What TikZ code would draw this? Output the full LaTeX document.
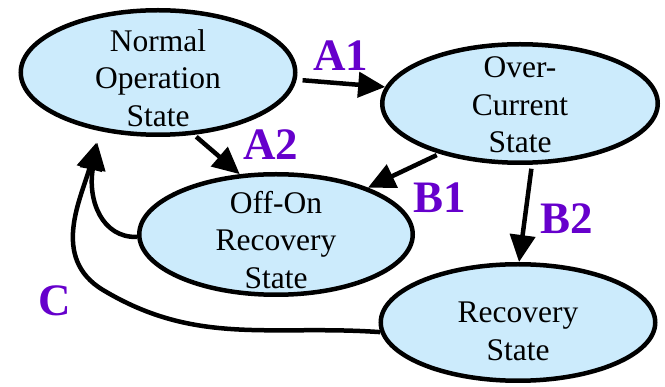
\documentclass[tikz,border=0pt]{standalone}
\usepackage{fontspec}
\setmainfont{Liberation Serif}
\newfontfamily\timesfont{Liberation Serif}
\usetikzlibrary{shapes.geometric,arrows.meta}
\definecolor{stfill}{HTML}{CCEBFC}
\definecolor{lblpurple}{HTML}{6600CC}
\begin{document}
\begin{tikzpicture}[x=1pt,y=1pt,
 state/.style={ellipse,draw=black,fill=stfill,line width=4.5pt,inner sep=0pt},
 stext/.style={align=center,inner sep=0pt,font=\timesfont\fontsize{31.5}{37.5}\selectfont},
 tr/.style={line width=4.5pt,-{Triangle[length=27pt,width=25pt]}},
 lbl/.style={text=lblpurple,font=\timesfont\fontsize{45}{45}\selectfont\bfseries,inner sep=0pt}]
\useasboundingbox (0,0) rectangle (665,-387);
\node[state,minimum width=274.5pt,minimum height=124.5pt] (N) at (158,-72.5) {};
\node[state,minimum width=275.5pt,minimum height=118.5pt] (O) at (520,-103.5) {};
\node[state,minimum width=273.5pt,minimum height=120.5pt] (F) at (276,-234.5) {};
\node[state,minimum width=274.5pt,minimum height=116.5pt] (R) at (518,-322.5) {};
\node[stext] (Nt) at (158,-78) {Normal\\Operation\\State};
\node[stext] (Ot) at (520,-105) {Over-\\Current\\State};
\node[stext] (Ft) at (276,-240) {Off-On\\Recovery\\State};
\node[stext] (Rt) at (518,-331.5) {Recovery\\State};
\draw[tr,shorten <=6pt] (N.-3) -- (O.173);
\draw[tr,shorten <=3pt] (N.-60) -- (F.121);
\draw[tr,shorten <=3pt] (O.212) -- (F.27);
\draw[tr,shorten <=4pt] (O.-79) -- (R.89);
\coordinate (cc) at (103,-290);
\draw[tr,shorten >=12pt] (F.181) to[out=182,in=-100,out looseness=0.8,in looseness=1.6] (N.225);
\draw[tr,shorten >=12pt] (R.184) to[out=176,in=-31] (cc) to[out=149,in=-105,in looseness=1.1] (N.225);
\node[lbl] (la1) at (341,-56) {A1};
\node[lbl] (la2) at (271,-145) {A2};
\node[lbl] (lb1) at (440,-198) {B1};
\node[lbl] (lb2) at (567,-219) {B2};
\node[lbl] (lc) at (55,-301) {C};
\end{tikzpicture}
\end{document}
